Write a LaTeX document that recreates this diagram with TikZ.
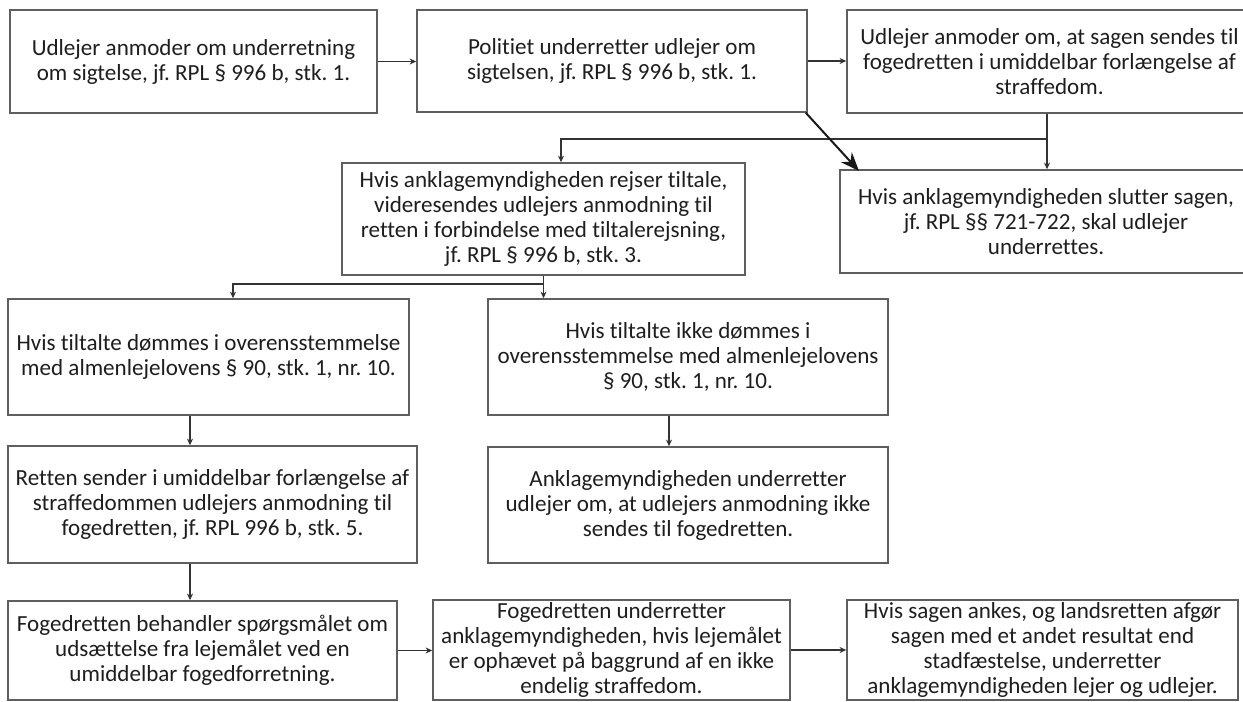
\documentclass[tikz,border=0pt]{standalone}
\usepackage{fontspec}
\setmainfont{Carlito}[Ligatures=NoCommon]
\usetikzlibrary{arrows.meta,positioning}
\definecolor{boxline}{RGB}{95,95,95}
\definecolor{txtgray}{RGB}{30,30,30}
\frenchspacing
\tikzset{
  box/.style={draw=boxline, line width=1.1pt, fill=white, align=center, inner sep=1pt, text=txtgray, font=\fontsize{17.3}{18.75}\selectfont},
  wh/.style 2 args={minimum width=#1*0.75pt, minimum height=#2*0.75pt},
  conn/.style={draw=black!80, line width=0.8pt},
  arr/.style={conn, -{Stealth[length=5pt,width=4.5pt]}},
  bigarr/.style={draw=black!90, line width=1.5pt, -{Stealth[length=14pt,width=11pt]}},
}
\begin{document}
\begin{tikzpicture}[x=0.75pt,y=0.75pt,yscale=-1]
\useasboundingbox (0,0) rectangle (1243,702);

% first row
\node[box, wh={367}{103}] (anmod) at (193.5,61.5) {Udlejer anmoder om underretning\\om sigtelse, jf. RPL § 996 b, stk. 1.};
\node[box, wh={390}{102}] (politi) at (612,61) {Politiet underretter udlejer om\\sigtelsen, jf. RPL § 996 b, stk. 1.};
\node[box, wh={405}{103}] (foged) at (1049.5,61.5) {Udlejer anmoder om, at sagen sendes til\\fogedretten i umiddelbar forlængelse af\\straffedom.};

% second row
\node[box, wh={403}{112}] (tiltale) at (543.5,219) {Hvis anklagemyndigheden rejser tiltale,\\videresendes udlejers anmodning til\\retten i forbindelse med tiltalerejsning,\\jf. RPL § 996 b, stk. 3.};
\node[box, wh={412}{103}] (slut) at (1046,221.5) {Hvis anklagemyndigheden slutter sagen,\\jf. RPL §§ 721-722, skal udlejer\\underrettes.};

% third row
\node[box, wh={401}{116}] (doemt) at (208.5,357) {Hvis tiltalte dømmes i overensstemmelse\\med almenlejelovens § 90, stk. 1, nr. 10.};
\node[box, wh={400}{116}] (ikkedoemt) at (688,357) {Hvis tiltalte ikke dømmes i\\overensstemmelse med almenlejelovens\\§ 90, stk. 1, nr. 10.};

% fourth row
\node[box, wh={409}{117}] (retten) at (212.5,504.5) {Retten sender i umiddelbar forlængelse af\\straffedommen udlejers anmodning til\\fogedretten, jf. RPL 996 b, stk. 5.};
\node[box, wh={400}{116}] (ikkesendt) at (688,505) {Anklagemyndigheden underretter\\udlejer om, at udlejers anmodning ikke\\sendes til fogedretten.};

% last row
\node[box, wh={389}{99}] (behandl) at (202.5,650.5) {Fogedretten behandler spørgsmålet om\\udsættelse fra lejemålet ved en\\umiddelbar fogedforretning.};
\node[box, wh={357}{100}] (ophaev) at (611.5,650) {Fogedretten underretter\\anklagemyndigheden, hvis lejemålet\\er ophævet på baggrund af en ikke\\endelig straffedom.};
\node[box, wh={391}{100}] (anke) at (1042.5,650) {Hvis sagen ankes, og landsretten afgør\\sagen med et andet resultat end\\stadfæstelse, underretter\\anklagemyndigheden lejer og udlejer.};

% connectors
\coordinate (split1) at (1047,139);
\coordinate (ddrop) at (561,0);
\coordinate (split2) at (543.5,284);
\coordinate (fdrop) at (233,284);
\coordinate (leftdrop) at (190,0);
\coordinate (middrop) at (669,0);
\coordinate (tip) at (859,171);

\draw[arr] (anmod.east) -- (anmod.east -| politi.west);
\draw[arr] (politi.east) -- (politi.east -| foged.west);
\draw[arr] (split1 |- foged.south) -- (split1) -| (tiltale.north -| ddrop);
\draw[arr] (split1) -- (split1 |- slut.north);
\draw[bigarr] ([xshift=-1.5pt]politi.south east) -- (tip);

\draw[conn] (tiltale.south) -- (split2);
\draw[arr] (split2) -- (fdrop) -- (fdrop |- doemt.north);
\draw[arr] (split2) -- (split2 |- ikkedoemt.north);

\draw[arr] (doemt.south -| leftdrop) -- (retten.north -| leftdrop);
\draw[arr] (retten.south -| leftdrop) -- (behandl.north -| leftdrop);
\draw[arr] (ikkedoemt.south -| middrop) -- (ikkesendt.north -| middrop);

\draw[arr] (behandl.east) -- (behandl.east -| ophaev.west);
\draw[arr] (ophaev.east) -- (ophaev.east -| anke.west);

\end{tikzpicture}
\end{document}
